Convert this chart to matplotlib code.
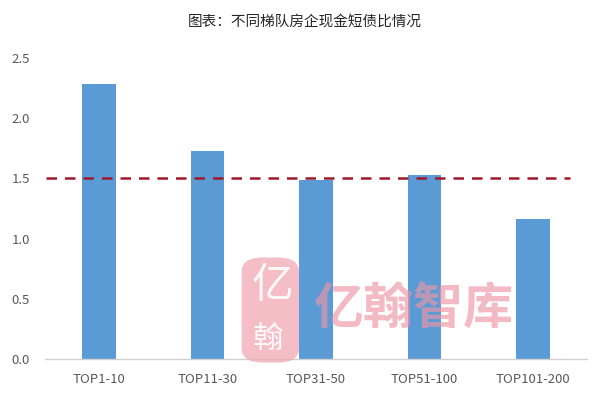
import matplotlib
matplotlib.use("Agg")

import matplotlib.pyplot as plt
from matplotlib.patches import FancyBboxPatch
import numpy as np

plt.rcParams["font.family"] = ["Noto Sans CJK SC", "DejaVu Sans"]

TITLE = "图表：不同梯队房企现金短债比情况"
CATEGORIES = ["TOP1-10", "TOP11-30", "TOP31-50", "TOP51-100", "TOP101-200"]
RATIOS = [2.28, 1.73, 1.49, 1.53, 1.16]
THRESHOLD = 1.5
Y_TICKS = [0.0, 0.5, 1.0, 1.5, 2.0, 2.5]

BAR_COLOR = "#5B9BD5"
LINE_COLOR = "#A0192B"
TEXT_COLOR = "#595959"

fig = plt.figure(figsize=(6.04, 4.12), dpi=100)
ax = fig.add_axes([0.0745, 0.1286, 0.8975, 0.7306])

x = np.arange(len(CATEGORIES))
ax.bar(x, RATIOS, width=0.31, color=BAR_COLOR, zorder=2)
ax.plot([-0.49, 4.34], [THRESHOLD, THRESHOLD], linestyle=(0, (4.2, 3.2)),
        color=LINE_COLOR, linewidth=1.8, zorder=3)

ax.set_xlim(-0.5, 4.5)
ax.set_ylim(0, 2.5)
ax.set_yticks(Y_TICKS)
ax.set_yticklabels([f"{v:.1f}" for v in Y_TICKS])
ax.set_xticks(x)
ax.set_xticklabels(CATEGORIES)
ax.tick_params(axis="both", length=0, labelsize=9.5, colors=TEXT_COLOR)
ax.tick_params(axis="x", pad=10)
ax.tick_params(axis="y", pad=11)
for side in ["top", "right", "left"]:
    ax.spines[side].set_visible(False)
ax.spines["bottom"].set_color("#D0D0D0")
ax.spines["bottom"].set_linewidth(1.0)

fig.text(0.505, 0.946, TITLE, ha="center", va="center", fontsize=10.5, color="#262626")

# watermark
seal = FancyBboxPatch((0.40, 0.12), 0.095, 0.255, boxstyle="round,pad=0.0,rounding_size=0.035",
                      transform=fig.transFigure, facecolor="#F2A7B3", edgecolor="none",
                      alpha=0.75, zorder=5)
fig.patches.append(seal)
fig.text(0.452, 0.305, "亿", ha="center", va="center", fontsize=30, color="white",
         alpha=0.9, zorder=6)
fig.text(0.444, 0.175, "翰", ha="center", va="center", fontsize=22, color="white",
         alpha=0.9, zorder=6)
fig.text(0.684, 0.25, "亿翰智库", ha="center", va="center", fontsize=36, color="#EE95A5",
         fontweight="bold", alpha=0.65, zorder=6)

fig.savefig("out.png", dpi=100)
